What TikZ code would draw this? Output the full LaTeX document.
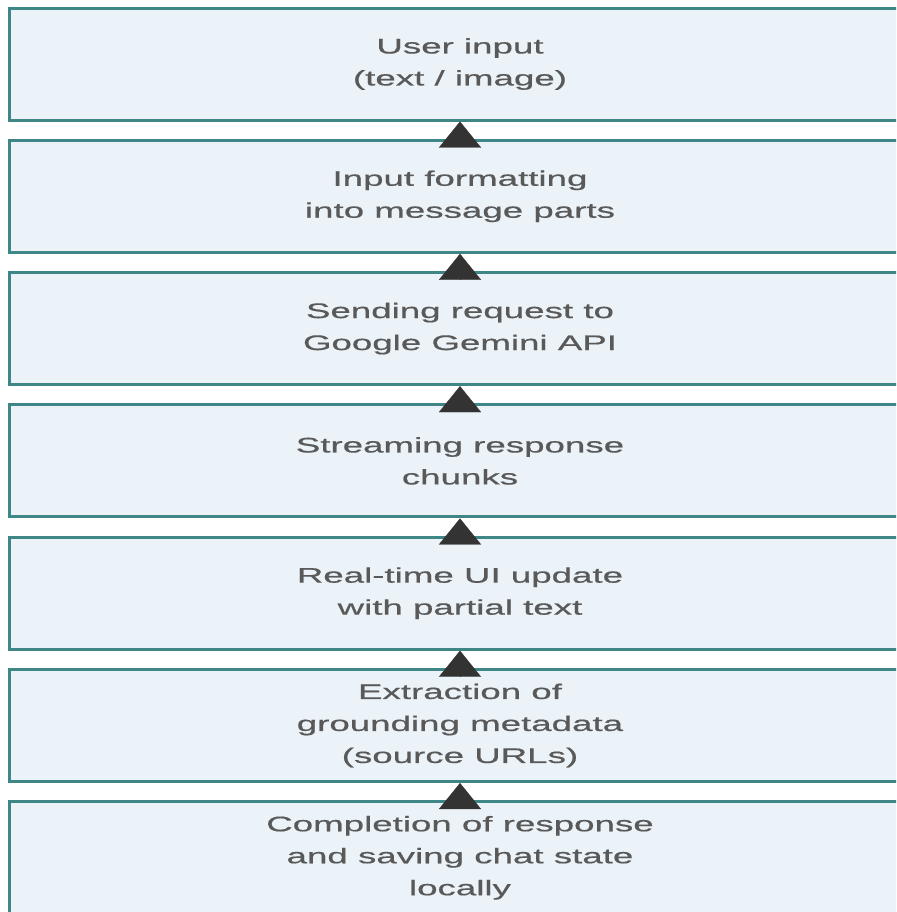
\documentclass[tikz,border=0pt]{standalone}
\usepackage{fontspec}
\setmainfont{Liberation Sans}[FakeStretch=1.74, FakeBold=0.6]
\usepackage{xcolor}
\usepackage{tikz}
\usetikzlibrary{arrows.meta, positioning}
\definecolor{boxfill}{HTML}{EBF3F8}
\definecolor{boxline}{HTML}{3F8686}
\definecolor{boxtext}{HTML}{595959}
\definecolor{tipcol}{HTML}{333333}
\tikzstyle{block} = [rectangle, draw=boxline, fill=boxfill, line width=0.06cm, minimum width=18cm, minimum height=2.24cm, text=boxtext, font=\fontsize{12}{18.2}\selectfont]
\tikzstyle{uparrow} = [draw=tipcol, line width=0.1pt, -{Triangle[width=0.84cm, length=0.52cm]}]
\tikzset{every node/.style={align=center}}

\begin{document}
\begin{tikzpicture}[node distance=2.646cm]
    \path[use as bounding box, clip] (0,0) rectangle (17.92,-18.24);

    \node (input) [block] at (9.2,-1.28) {User input\\(text / image)};
    \node (format) [block, below of=input] {Input formatting\\into message parts};
    \node (send) [block, below of=format] {Sending request to\\Google Gemini API};
    \node (stream) [block, below of=send] {Streaming response\\chunks};
    \node (ui) [block, below of=stream] {Real-time UI update\\with partial text};
    \node (meta) [block, below of=ui] {Extraction of\\grounding metadata\\(source URLs)};
    \node (save) [block, below of=meta] {Completion of response\\and saving chat state\\locally};

    \draw [uparrow] (format.north) -- (input.south);
    \draw [uparrow] (send.north) -- (format.south);
    \draw [uparrow] (stream.north) -- (send.south);
    \draw [uparrow] (ui.north) -- (stream.south);
    \draw [uparrow] (meta.north) -- (ui.south);
    \draw [uparrow] (save.north) -- (meta.south);
\end{tikzpicture}
\end{document}
